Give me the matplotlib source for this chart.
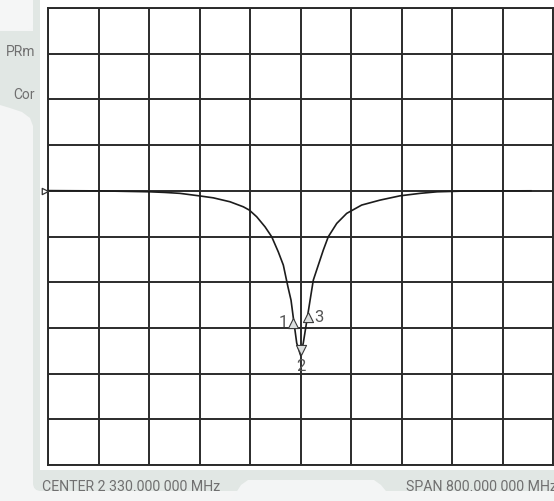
import numpy as np
import matplotlib
matplotlib.use("Agg")
import matplotlib.pyplot as plt
from matplotlib.path import Path
from matplotlib.patches import Polygon, Rectangle, FancyBboxPatch
from matplotlib.transforms import blended_transform_factory

# trace (MHz, dB)
freq_mhz = [1930.0, 2012.4, 2091.6, 2115.3, 2139.1, 2169.2, 2191.9, 2218.3,
            2239.4, 2248.9, 2260.6, 2273.8, 2284.4, 2294.8, 2302.8, 2310.2,
            2315.0, 2318.7, 2324.0, 2330.0, 2334.4, 2342.2, 2345.2, 2350.3,
            2358.2, 2366.1, 2374.0, 2387.4, 2403.2, 2426.9, 2455.9, 2487.6,
            2519.2, 2546.3, 2589.0, 2646.0, 2695.0]
s21_db = [0.02, -0.01, -0.11, -0.18, -0.28, -0.55, -0.77, -1.20,
          -1.75, -2.11, -2.84, -3.94, -5.03, -6.68, -8.13, -10.54,
          -11.97, -13.93, -16.66, -17.98, -16.66, -13.27, -11.96, -9.77,
          -8.13, -6.49, -5.03, -3.57, -2.47, -1.56, -1.02, -0.55,
          -0.28, -0.11, -0.03, -0.01, 0.0]

marker_names = ["1", "2", "3"]
marker_freq = [2318.7, 2330.0, 2342.2]
marker_db = [-13.93, -17.98, -13.27]

center_mhz = 2330.0
span_mhz = 800.0
ref_level = 0.0
db_per_div = 5.0
ref_pos = 6  # divisions from bottom

W, H = 554, 501
fig = plt.figure(figsize=(W / 100, H / 100), dpi=100, facecolor="#f4f5f5")

# background panels, drawn in pixel coords
bg = fig.add_axes([0, 0, 1, 1], zorder=0)
bg.set_xlim(0, W)
bg.set_ylim(H, 0)
bg.axis("off")
green = "#e1e7e4"
bg.add_patch(FancyBboxPatch((33, -20), W, H + 10, boxstyle="round,pad=0,rounding_size=8",
                            fc=green, ec="none"))
tab = [(0, 31), (40, 31), (40, 128), (33, 126), (30, 118), (22, 112), (10, 108), (0, 105)]
bg.add_patch(Polygon(tab, closed=True, fc=green, ec="none"))
bg.add_patch(FancyBboxPatch((-10, -10), 43, 40, boxstyle="round,pad=0,rounding_size=5",
                            fc="#f5f6f6", ec="none"))
bg.add_patch(Rectangle((40, 0), W - 40, 470, fc="white", ec="none"))
lower_tab = [(230, 502), (241, 485), (248, 480), (374, 480), (381, 485), (395, 502)]
bg.add_patch(Polygon(lower_tab, closed=True, fc="#f3f5f5", ec="none"))

txt = dict(family="Roboto", color="#707070", va="center")
bg.text(35, 52, "PRm", ha="right", fontsize=10, **txt)
bg.text(35, 95, "Cor", ha="right", fontsize=10, **txt)
bg.text(42, 487, "CENTER 2 330.000 000 MHz", ha="left", fontsize=10.2, **txt)
bg.text(557, 487, "SPAN 800.000 000 MHz", ha="right", fontsize=10.2, **txt)

# graticule
ax = fig.add_axes([48 / W, 1 - 465 / H, 505 / W, 457 / H], zorder=1)
ax.set_facecolor("none")
fmin = center_mhz - span_mhz / 2
fmax = center_mhz + span_mhz / 2
ymin = ref_level - ref_pos * db_per_div
ymax = ref_level + (10 - ref_pos) * db_per_div
ax.set_xlim(fmin, fmax)
ax.set_ylim(ymin, ymax)
ax.set_xticks(np.linspace(fmin, fmax, 11))
ax.set_yticks(np.linspace(ymin, ymax, 11))
ax.tick_params(length=0, labelbottom=False, labelleft=False)
ax.grid(True, color="#2b2b2b", lw=1.4)
for s in ax.spines.values():
    s.set_color("#2b2b2b")
    s.set_linewidth(1.4)

ax.plot(freq_mhz, s21_db, color="#1c1c1c", lw=1.2, zorder=3)

# reference level arrow
ref_tri = Path([(0, 0), (-1, 0.5), (-1, -0.5), (0, 0)],
               [Path.MOVETO, Path.LINETO, Path.LINETO, Path.CLOSEPOLY])
trans = blended_transform_factory(ax.transAxes, ax.transData)
ax.plot([0], [ref_level], marker=ref_tri, ms=9, mfc="white", mec="#333333", mew=0.9,
        transform=trans, clip_on=False, zorder=4)

# markers
up_tri = Path([(0, 0), (-0.5, -1), (0.5, -1), (0, 0)],
              [Path.MOVETO, Path.LINETO, Path.LINETO, Path.CLOSEPOLY])
down_tri = Path([(0, 0), (-0.5, 1), (0.5, 1), (0, 0)],
                [Path.MOVETO, Path.LINETO, Path.LINETO, Path.CLOSEPOLY])
label_off = {"1": (-5, -4), "2": (0, -11), "3": (6, -5)}
label_ha = {"1": "right", "2": "center", "3": "left"}
for name, f, d in zip(marker_names, marker_freq, marker_db):
    shape = down_tri if name == "2" else up_tri
    ax.plot([f], [d], marker=shape, ms=14.5, mfc="#dcdfdf", mec="#3a3a3a", mew=0.8,
            zorder=5)
    ax.annotate(name, (f, d), xytext=label_off[name], textcoords="offset pixels",
                ha=label_ha[name], va="center", fontsize=12, color="#555555",
                family="Roboto", zorder=6)

fig.savefig("out.png", dpi=100, facecolor=fig.get_facecolor())
